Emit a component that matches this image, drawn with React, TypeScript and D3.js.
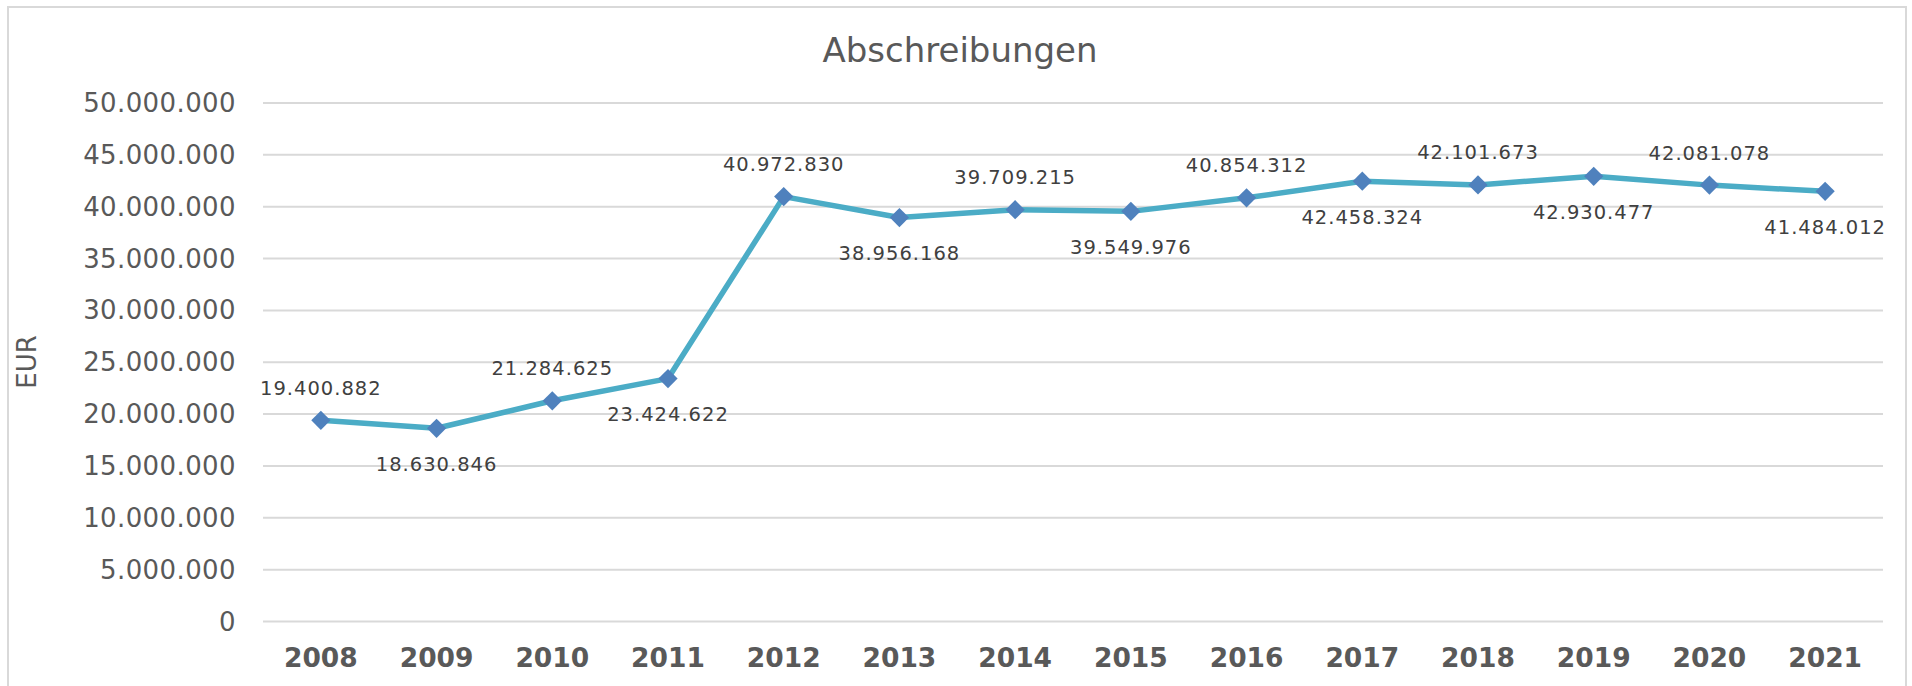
import React from "react";
import * as d3 from "d3";

// Werte aus dem Diagramm
const years = ["2008", "2009", "2010", "2011", "2012", "2013", "2014", "2015", "2016", "2017", "2018", "2019", "2020", "2021"];
const values = [
  19400882, 18630846, 21284625, 23424622, 40972830, 38956168, 39709215,
  39549976, 40854312, 42458324, 42101673, 42930477, 42081078, 41484012,
];
const labelSide = ["above", "below", "above", "below", "above", "below", "above", "below", "above", "below", "above", "below", "above", "below"];
const yTicks = [0, 5000000, 10000000, 15000000, 20000000, 25000000, 30000000, 35000000, 40000000, 45000000, 50000000];

const width = 1912;
const height = 686;

const fmt = (v: number) => (v === 0 ? "0" : d3.format(",")(v).replace(/,/g, "."));

const App: React.FC = () => {
  const x = d3.scaleBand<string>().domain(years).range([263, 1883]).padding(0);
  const y = d3.scaleLinear().domain([0, 50000000]).range([621.5, 103]);
  const cx = (d: string) => (x(d) ?? 0) + x.bandwidth() / 2;

  const line = d3
    .line<number>()
    .x((_, i) => cx(years[i]))
    .y((d) => y(d));

  const diamond = d3.symbol().type(d3.symbolSquare).size(185)();

  return (
    <svg
      width={width}
      height={height}
      style={{ position: "fixed", left: 0, top: 0, background: "#fff" }}
    >
      <rect x={8} y={7} width={1898} height={700} fill="#fff" stroke="#d9d9d9" strokeWidth={2} />

      <text
        x={960}
        y={62}
        textAnchor="middle"
        fontFamily="DejaVu Sans"
        fontSize={34}
        fill="#595959"
      >
        Abschreibungen
      </text>

      {/* Gitterlinien und Achsenbeschriftung */}
      {yTicks.map((t) => (
        <g key={t}>
          <line x1={263} x2={1883} y1={y(t)} y2={y(t)} stroke="#d9d9d9" strokeWidth={2} />
          <text
            x={236}
            y={y(t)}
            textAnchor="end"
            dominantBaseline="central"
            fontFamily="DejaVu Sans"
            fontSize={26}
            letterSpacing={0.4}
            fill="#595959"
          >
            {fmt(t)}
          </text>
        </g>
      ))}

      <text
        transform={`translate(27,362) rotate(-90)`}
        textAnchor="middle"
        dominantBaseline="central"
        fontFamily="DejaVu Sans"
        fontSize={26}
        fill="#595959"
      >
        EUR
      </text>

      {years.map((yr) => (
        <text
          key={yr}
          x={cx(yr)}
          y={667}
          textAnchor="middle"
          fontFamily="DejaVu Sans"
          fontWeight="bold"
          fontSize={26.5}
          fill="#595959"
        >
          {yr}
        </text>
      ))}

      <path d={line(values) ?? ""} fill="none" stroke="#4bacc6" strokeWidth={5.5} strokeLinejoin="round" />

      {values.map((v, i) => (
        <path
          key={i}
          d={diamond ?? ""}
          transform={`translate(${cx(years[i])},${y(v)}) rotate(45)`}
          fill="#4f81bd"
        />
      ))}

      {values.map((v, i) => (
        <text
          key={"l" + i}
          x={cx(years[i])}
          y={y(v) + (labelSide[i] === "above" ? -32 : 36)}
          textAnchor="middle"
          dominantBaseline="central"
          fontFamily="DejaVu Sans"
          fontSize={19.5}
          letterSpacing={1}
          fill="#404040"
        >
          {fmt(v)}
        </text>
      ))}
    </svg>
  );
};

export default App;
